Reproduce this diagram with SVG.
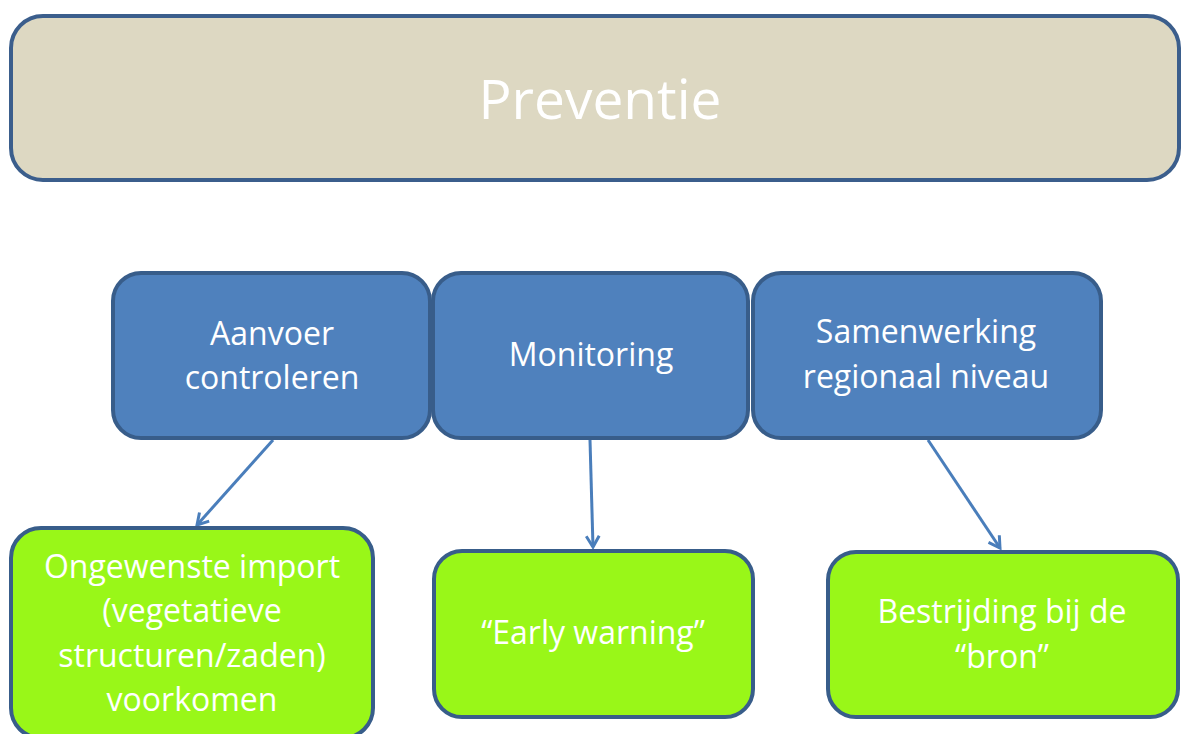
<svg xmlns="http://www.w3.org/2000/svg" width="1181" height="734" viewBox="0 0 1181 734">
<style>
.top{fill:#DDD8C2;stroke:#3B5E8C;stroke-width:4}
.blue{fill:#4F81BD;stroke:#385D8A;stroke-width:4}
.green{fill:#99F718;stroke:#385D8A;stroke-width:4}
.t{font-family:"Open Sans","Noto Sans","Liberation Sans",sans-serif;fill:#FFFFFF;text-anchor:middle}
.tb{font-size:32px}
.conn{stroke:#4A7EBB;stroke-width:3;fill:none;marker-end:url(#arr)}
</style>
<defs>
<marker id="arr" markerWidth="16" markerHeight="16" refX="12" refY="8" orient="auto" markerUnits="userSpaceOnUse">
<path d="M1,1.5 L12,8 L1,14.5" fill="none" stroke="#4A7EBB" stroke-width="3"/>
</marker>
</defs>
<rect width="1181" height="734" fill="#FFFFFF"/>
<g id="preventie">
<rect class="top" x="11" y="16" width="1168" height="164" rx="32"/>
<text class="t" x="600" y="119" font-size="55">Preventie</text>
</g>
<g id="connectors">
<line class="conn" x1="273" y1="440" x2="197" y2="525"/>
<line class="conn" x1="590" y1="440" x2="593" y2="547"/>
<line class="conn" x1="928" y1="440" x2="1000" y2="548"/>
</g>
<g id="aanvoer">
<rect class="blue" x="113" y="273" width="317" height="165" rx="28"/>
<text class="t tb" x="272" y="345">Aanvoer</text>
<text class="t tb" x="272" y="389">controleren</text>
</g>
<g id="monitoring">
<rect class="blue" x="433" y="273" width="315" height="165" rx="28"/>
<text class="t tb" x="591" y="366">Monitoring</text>
</g>
<g id="samenwerking">
<rect class="blue" x="753" y="273" width="348" height="165" rx="28"/>
<text class="t tb" x="926" y="343">Samenwerking</text>
<text class="t tb" x="926" y="388">regionaal niveau</text>
</g>
<g id="import">
<rect class="green" x="11" y="528" width="362" height="210" rx="30"/>
<text class="t tb" x="192" y="578">Ongewenste import</text>
<text class="t tb" x="192" y="622">(vegetatieve</text>
<text class="t tb" x="192" y="667">structuren/zaden)</text>
<text class="t tb" x="192" y="711">voorkomen</text>
</g>
<g id="early">
<rect class="green" x="434" y="551" width="319" height="166" rx="28"/>
<text class="t tb" x="593" y="644">“Early warning”</text>
</g>
<g id="bestrijding">
<rect class="green" x="828" y="552" width="350" height="165" rx="28"/>
<text class="t tb" x="1002" y="623">Bestrijding bij de</text>
<text class="t tb" x="1002" y="668">“bron”</text>
</g>
</svg>
